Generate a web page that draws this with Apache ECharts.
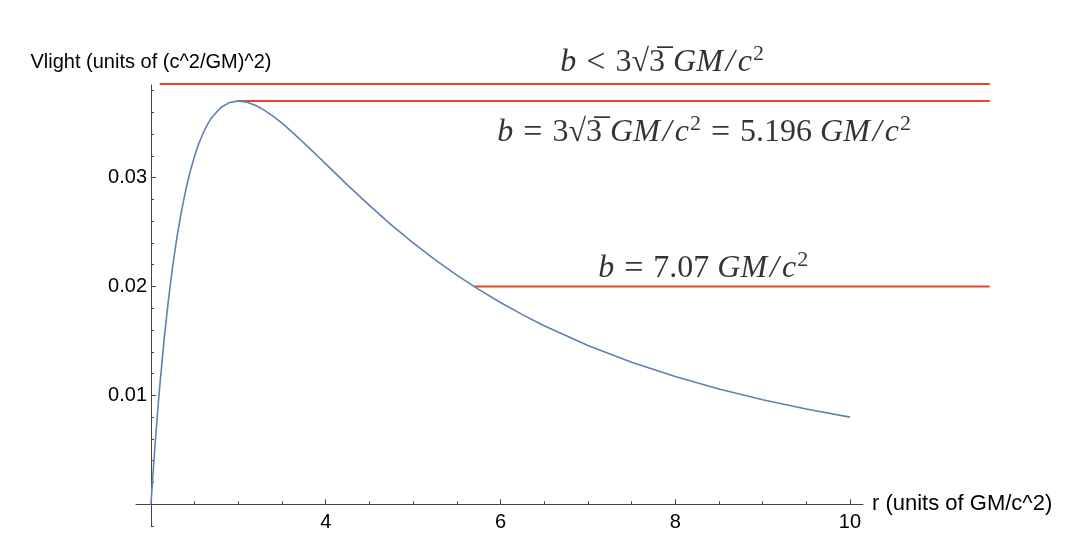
<!DOCTYPE html>
<html>
<head>
<meta charset="utf-8">
<script src="https://cdn.jsdelivr.net/npm/echarts@6/dist/echarts.min.js"></script>
<style>html,body{margin:0;padding:0;background:#fff}#c{width:1086px;height:550px}</style>
</head>
<body>
<div id="c"></div>
<script>
// Curve: r (units of GM/c^2) and Vlight (units of (c^2/GM)^2)
const rValues = [2.0, 2.01, 2.02, 2.03, 2.05, 2.07, 2.1, 2.15, 2.2, 2.25, 2.3, 2.35, 2.4, 2.45, 2.5, 2.55, 2.6, 2.65, 2.7, 2.8, 2.9, 3.0, 3.1, 3.2, 3.3, 3.4, 3.5, 3.6, 3.7, 3.8, 3.9, 4.0, 4.25, 4.5, 4.75, 5.0, 5.25, 5.5, 5.75, 6.0, 6.25, 6.5, 7.0, 7.5, 8.0, 8.5, 9.0, 9.5, 10.0];
const vValues = [0, 0.00123, 0.00243, 0.00359, 0.00580, 0.00789, 0.01080, 0.01509, 0.01878, 0.02195, 0.02466, 0.02697, 0.02894, 0.03060, 0.03200, 0.03317, 0.03414, 0.03493, 0.03556, 0.03644, 0.03690, 0.03704, 0.03692, 0.03662, 0.03617, 0.03562, 0.03499, 0.03429, 0.03356, 0.03280, 0.03203, 0.03125, 0.02931, 0.02744, 0.02566, 0.02400, 0.02246, 0.02104, 0.01973, 0.01852, 0.01741, 0.01639, 0.01458, 0.01304, 0.01172, 0.01058, 0.00960, 0.00875, 0.00800];

// Horizontal red levels
const levelValues = [0.0386, 0.03704, 0.0200];
const levelStarts = [2.1, 3.0, 5.7];
const levelEnd = 11.6;

// Annotation texts and their anchors (data coordinates)
const annotationTexts = [
  '{i|b}{o|<}{r|3√3\u0305}{sp| }{i|GM}{sl|/}{i|c}{s|2}',
  '{i|b}{o|=}{r|3√3\u0305}{sp| }{i|GM}{sl|/}{i|c}{s|2}{o|=}{r|5.196}{sp| }{i|GM}{sl|/}{i|c}{s|2}',
  '{i|b}{o|=}{r|7.07}{sp| }{i|GM}{sl|/}{i|c}{s|2}'
];
const annotationR = [7.85, 8.331, 8.32];
const annotationV = [0.04055, 0.03410, 0.02160];

// Ticks
const xMajorTicks = [4, 6, 8, 10];
const xMinorTicks = [2.5, 3, 3.5, 4.5, 5, 5.5, 6.5, 7, 7.5, 8.5, 9, 9.5];
const yMajorTicks = [0.01, 0.02, 0.03];
const yMinorTicks = [-0.002, 0.002, 0.004, 0.006, 0.008, 0.012, 0.014, 0.016, 0.018, 0.022, 0.024, 0.026, 0.028, 0.032, 0.034, 0.036, 0.038];

const axisColor = '#444';
const redColor = '#E8452C';
const blueColor = '#5E81B5';
const W = 1086, H = 550;

// main plot geometry
const g0 = { left: 136, right: 223, top: 85, bottom: 24 };
const xMin = 1.8286, xMax = 10.149, yMin = -0.002, yMax = 0.0385;
const pxPerX = (W - g0.left - g0.right) / (xMax - xMin);
const pxPerY = (H - g0.top - g0.bottom) / (yMax - yMin);
// wider overlay grid (same scale) for the red levels, which run past the axis end
const g1 = { left: 136, right: 86, top: 75, bottom: 24 };
const xMax1 = xMin + (W - g1.left - g1.right) / pxPerX;
const yMax1 = yMin + (H - g1.top - g1.bottom) / pxPerY;

const curveData = rValues.map((r, i) => [r, vValues[i]]);
const levelSeries = levelValues.map((v, i) => ({
  type: 'line',
  xAxisIndex: 2, yAxisIndex: 2,
  data: [[levelStarts[i], v], [levelEnd, v]],
  showSymbol: false,
  silent: true,
  lineStyle: { color: redColor, width: 2 },
  z: 3
}));

const serif = 'Liberation Serif';
const richStyles = {
  i: { fontFamily: serif, fontStyle: 'italic', fontSize: 32, color: '#000' },
  sl: { fontFamily: serif, fontStyle: 'italic', fontSize: 32, color: '#000', padding: [0, 3, 0, 3] },
  r: { fontFamily: serif, fontSize: 32, color: '#000' },
  sp: { fontFamily: serif, fontSize: 32, color: '#000' },
  o: { fontFamily: serif, fontSize: 34, color: '#000', padding: [0, 10, 0, 10] },
  s: { fontFamily: serif, fontSize: 22, color: '#000', verticalAlign: 'top', padding: [0, 0, 17, 1] }
};

const annotationSeries = {
  type: 'scatter',
  xAxisIndex: 2, yAxisIndex: 2,
  symbolSize: 0,
  clip: false,
  silent: true,
  data: annotationTexts.map((t, i) => ({ value: [annotationR[i], annotationV[i]], label: { formatter: t } })),
  label: { show: true, position: 'inside', color: '#000', rich: richStyles }
};

const sans = 'Liberation Sans';
const baseX = { type: 'value', min: xMin, max: xMax, position: 'bottom', gridIndex: 0, splitLine: { show: false } };
const baseY = { type: 'value', min: yMin, max: yMax, position: 'left', offset: -15, gridIndex: 0, splitLine: { show: false } };

const chart = echarts.init(document.getElementById('c'), null, { renderer: 'canvas' });
chart.setOption({
  animation: false,
  backgroundColor: '#fff',
  grid: [g0, g1],
  xAxis: [
    Object.assign({}, baseX, {
      name: 'r (units of GM/c^2)', nameLocation: 'end', nameGap: 9,
      nameTextStyle: { fontFamily: sans, fontSize: 22, color: '#000' },
      axisLine: { show: true, onZero: true, lineStyle: { color: axisColor, width: 1 } },
      axisTick: { show: true, inside: true, length: 5, customValues: xMajorTicks, lineStyle: { color: axisColor } },
      axisLabel: { show: true, customValues: xMajorTicks, margin: -14, fontFamily: sans, fontSize: 20, color: '#000' }
    }),
    Object.assign({}, baseX, {
      axisLine: { show: false, onZero: true },
      axisTick: { show: true, inside: true, length: 3, customValues: xMinorTicks, lineStyle: { color: axisColor } },
      axisLabel: { show: false }
    }),
    { type: 'value', gridIndex: 1, min: xMin, max: xMax1, show: false }
  ],
  yAxis: [
    Object.assign({}, baseY, {
      name: 'Vlight (units of (c^2/GM)^2)', nameLocation: 'end', nameGap: 13,
      nameTextStyle: { fontFamily: sans, fontSize: 20, color: '#000' },
      axisLine: { show: true, onZero: false, lineStyle: { color: axisColor, width: 1 } },
      axisTick: { show: true, inside: true, length: 5, customValues: yMajorTicks, lineStyle: { color: axisColor } },
      axisLabel: { show: true, customValues: yMajorTicks, margin: 4, fontFamily: sans, fontSize: 20, color: '#000', formatter: v => v.toFixed(2) }
    }),
    Object.assign({}, baseY, {
      axisLine: { show: false, onZero: false },
      axisTick: { show: true, inside: true, length: 3, customValues: yMinorTicks, lineStyle: { color: axisColor } },
      axisLabel: { show: false }
    }),
    { type: 'value', gridIndex: 1, min: yMin, max: yMax1, show: false }
  ],
  series: [
    {
      type: 'line', data: curveData, showSymbol: false,
      lineStyle: { color: blueColor, width: 1.6 }, silent: true, z: 4
    }
  ].concat(levelSeries, [annotationSeries])
});
</script>
</body>
</html>
